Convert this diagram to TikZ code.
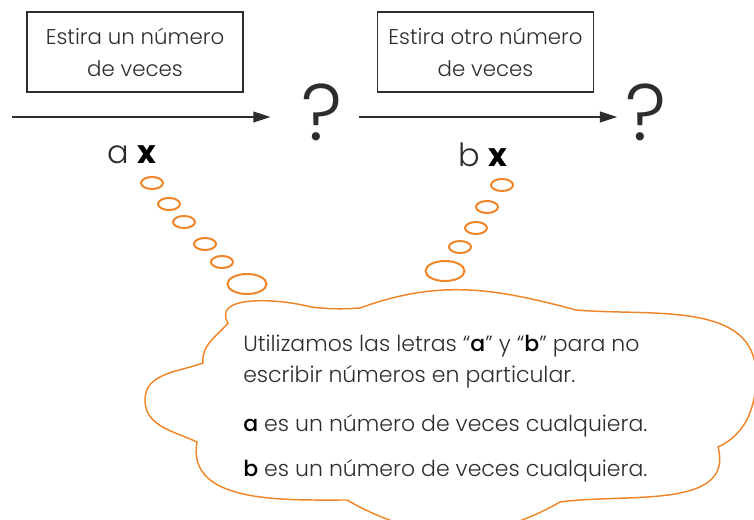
\documentclass[tikz,border=0pt]{standalone}
\usepackage{fontspec}
\setmainfont{Poppins}
\IfFontExistsTF{Poppins Light}{\newfontfamily\fina{Poppins Light}}{\newfontfamily\fina{Poppins}}
\IfFontExistsTF{Poppins Medium}{\newfontfamily\media{Poppins Medium}}{\newfontfamily\media{Poppins}}
\usetikzlibrary{arrows.meta,positioning}
\definecolor{naranja}{RGB}{240,133,40}
\definecolor{tinta}{RGB}{45,45,45}
\tikzset{caja/.style={draw=tinta, line width=1.1pt, minimum width=162pt, minimum height=60pt,
    inner sep=0pt, align=center, text=tinta, font=\fina\fontsize{16}{24}\selectfont},
  flecha/.style={line width=1.6pt, draw=tinta, -{Triangle[length=13pt,width=8pt]}},
  pregunta/.style={text=tinta, inner sep=0pt, font=\fina\fontsize{60}{60}\selectfont},
  factor/.style={text=tinta, inner sep=0pt, font=\fina\fontsize{24}{24}\selectfont},
  burbuja/.style={draw=naranja, line width=1.5pt},
  nube/.style={draw=naranja, line width=1.1pt},
  texto/.style={text=tinta, inner sep=0pt, anchor=base west, font=\fina\fontsize{16.5}{23}\selectfont}}
\newcommand{\letra}[1]{{\media\color{black}#1}}
\newcommand{\por}{{\rmfamily\bfseries\color{black}x}}

\begin{document}
\begin{tikzpicture}[x=0.75pt, y=0.75pt]
  \useasboundingbox (0,0) rectangle (754,-520);
  \coordinate (inicio) at (12,-117);
  \node[pregunta] (q1) at (322,-112) {?};
  \node[pregunta] (q2) at (646,-112) {?};
  \node[caja] (caja1) at (135,-52) {Estira un número\\de veces};
  \node[caja] (caja2) at (485.5,-52) {Estira otro número\\de veces};
  \draw[flecha, shorten >=23pt] (inicio) -- (q1.west |- inicio);
  \draw[flecha, shorten <=12.5pt, shorten >=6pt] (q1.east |- inicio) -- (q2.west |- inicio);
  \node[factor] (fa) at (132,-155) {a \por};
  \node[factor] (fb) at (483,-155) {b \por};
  \foreach \cx/\cy/\rx/\ry in {152/183/11/6, 169/204/11/6, 184/222/11/6, 205/244/11/6,
      222/262/11/6, 247/284/19.5/10, 502/185/11/6, 487/207/11/6, 476/228/11/6,
      460/247/11/6, 445/271/19.5/10}
    \draw[burbuja] (\cx,-\cy) ellipse [x radius=\rx, y radius=\ry];
  \draw[nube] (228,-323) to[out=120,in=165] (311,-307) to[bend right=5] (360,-308)
    to[out=20,in=165] (576,-310) to[out=-5,in=90] (756,-375) to[out=-90,in=25] (718,-447)
    to[out=-75,in=8] (560,-502) to[out=-150,in=-30] (347,-500) to[out=180,in=-100] (197,-442)
    to[out=155,in=-90] (145,-400) to[out=90,in=200] (203,-363) to[out=95,in=-130] cycle;
  \node[texto] (t1) at (243,-352) {Utilizamos las letras “\letra{a}” y “\letra{b}” para no};
  \node[texto] (t2) at (243,-383) {escribir números en particular.};
  \node[texto] (t3) at (243,-432) {\letra{a} es un número de veces cualquiera.};
  \node[texto] (t4) at (243,-477) {\letra{b} es un número de veces cualquiera.};
\end{tikzpicture}
\end{document}
